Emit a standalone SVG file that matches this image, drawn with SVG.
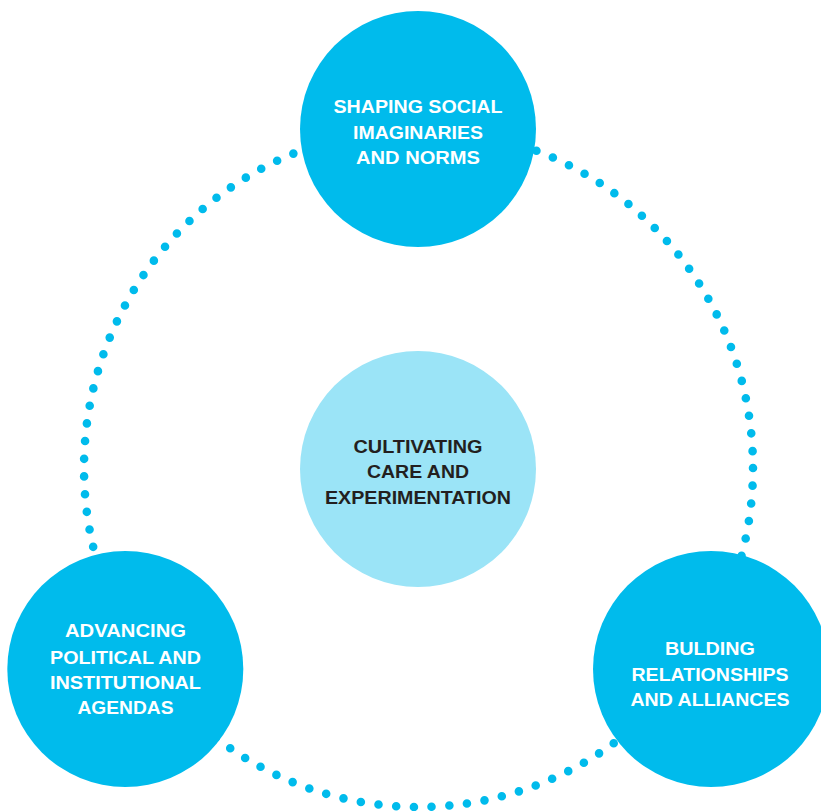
<svg xmlns="http://www.w3.org/2000/svg" width="821" height="811" viewBox="0 0 821 811">
<style>
.ring{fill:none;stroke:#00BBEC;stroke-width:8.6;stroke-linecap:round;stroke-dasharray:0 17.78}
.node{fill:#00BBEC}
.core{fill:#9BE4F7}
.lbl{font-family:"Liberation Sans",Arial,sans-serif;font-weight:bold;font-size:18.5px;text-anchor:middle;fill:#FFFFFF}
.dark{fill:#231F20}
</style>
<rect width="821" height="811" fill="#FFFFFF"/>
<g id="connectors">
<ellipse class="ring" cx="418.5" cy="468" rx="334.5" ry="339"/>
</g>
<g id="node-top">
<circle class="node" cx="418" cy="129" r="118"/>
<text class="lbl" x="418" y="113" textLength="169" lengthAdjust="spacingAndGlyphs">SHAPING SOCIAL</text>
<text class="lbl" x="418" y="138.5" textLength="130" lengthAdjust="spacingAndGlyphs">IMAGINARIES</text>
<text class="lbl" x="418" y="163.5" textLength="124" lengthAdjust="spacingAndGlyphs">AND NORMS</text>
</g>
<g id="node-center">
<circle class="core" cx="418" cy="469" r="118"/>
<text class="lbl dark" x="418" y="453.3" textLength="129" lengthAdjust="spacingAndGlyphs">CULTIVATING</text>
<text class="lbl dark" x="418" y="478.3" textLength="102" lengthAdjust="spacingAndGlyphs">CARE AND</text>
<text class="lbl dark" x="418" y="504" textLength="186" lengthAdjust="spacingAndGlyphs">EXPERIMENTATION</text>
</g>
<g id="node-left">
<circle class="node" cx="125.3" cy="669" r="118"/>
<text class="lbl" x="125.5" y="637.3" textLength="121" lengthAdjust="spacingAndGlyphs">ADVANCING</text>
<text class="lbl" x="125.5" y="664" textLength="151" lengthAdjust="spacingAndGlyphs">POLITICAL AND</text>
<text class="lbl" x="125.5" y="689.3" textLength="151" lengthAdjust="spacingAndGlyphs">INSTITUTIONAL</text>
<text class="lbl" x="125.5" y="714" textLength="96" lengthAdjust="spacingAndGlyphs">AGENDAS</text>
</g>
<g id="node-right">
<circle class="node" cx="711" cy="669" r="118"/>
<text class="lbl" x="710" y="655" textLength="90" lengthAdjust="spacingAndGlyphs">BULDING</text>
<text class="lbl" x="710" y="680.7" textLength="157" lengthAdjust="spacingAndGlyphs">RELATIONSHIPS</text>
<text class="lbl" x="710" y="706" textLength="159" lengthAdjust="spacingAndGlyphs">AND ALLIANCES</text>
</g>
</svg>
